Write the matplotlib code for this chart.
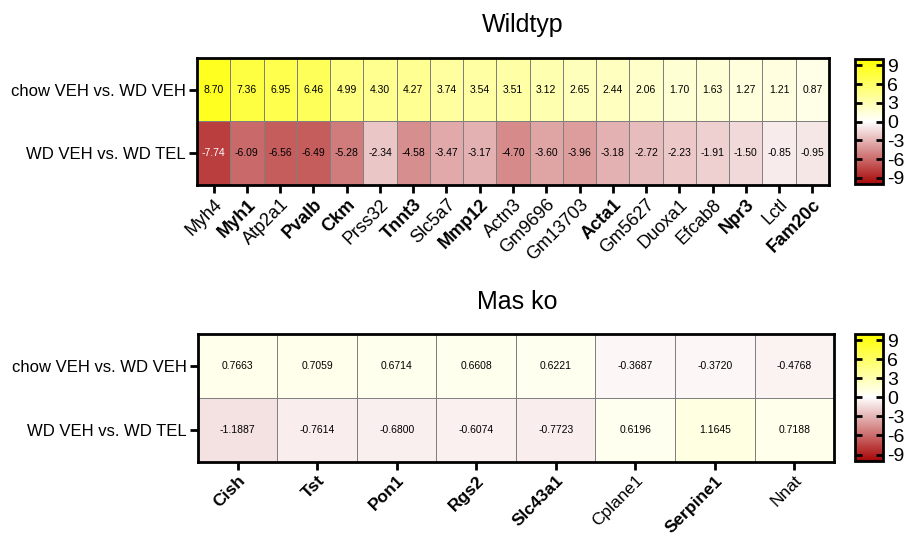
import numpy as np
import matplotlib
matplotlib.use("Agg")
import matplotlib.pyplot as plt
from matplotlib.colors import LinearSegmentedColormap

plt.rcParams['font.family'] = ['Liberation Sans', 'DejaVu Sans']

rows = ["chow VEH vs. WD VEH", "WD VEH vs. WD TEL"]

# Wildtyp
wt_genes = ["Myh4", "Myh1", "Atp2a1", "Pvalb", "Ckm", "Prss32", "Tnnt3", "Slc5a7",
            "Mmp12", "Actn3", "Gm9696", "Gm13703", "Acta1", "Gm5627", "Duoxa1",
            "Efcab8", "Npr3", "Lctl", "Fam20c"]
wt_bold = ["Myh1", "Pvalb", "Ckm", "Tnnt3", "Mmp12", "Acta1", "Npr3", "Fam20c"]
wt_chow = [8.70, 7.36, 6.95, 6.46, 4.99, 4.30, 4.27, 3.74, 3.54, 3.51, 3.12, 2.65,
           2.44, 2.06, 1.70, 1.63, 1.27, 1.21, 0.87]
wt_tel = [-7.74, -6.09, -6.56, -6.49, -5.28, -2.34, -4.58, -3.47, -3.17, -4.70,
          -3.60, -3.96, -3.18, -2.72, -2.23, -1.91, -1.50, -0.85, -0.95]

# Mas ko
ko_genes = ["Cish", "Tst", "Pon1", "Rgs2", "Slc43a1", "Cplane1", "Serpine1", "Nnat"]
ko_bold = ["Cish", "Tst", "Pon1", "Rgs2", "Slc43a1", "Serpine1"]
ko_chow = [0.7663, 0.7059, 0.6714, 0.6608, 0.6221, -0.3687, -0.3720, -0.4768]
ko_tel = [-1.1887, -0.7614, -0.6800, -0.6074, -0.7723, 0.6196, 1.1645, 0.7188]

cmap = LinearSegmentedColormap.from_list(
    "ryw", ["#a80808", "#ffffff", "#ffff00"])
vmin, vmax = -10, 10
cticks = [9, 6, 3, 0, -3, -6, -9]

fig = plt.figure(figsize=(9.09, 5.37), dpi=100)


def heat(ax, cax, genes, bold, top, bottom, fmt, xfs, title, title_x, title_y):
    data = np.array([top, bottom])
    m = ax.pcolormesh(data, cmap=cmap, vmin=vmin, vmax=vmax,
                      edgecolors="#808080", linewidth=0.6)
    ax.set_xlim(0, len(genes))
    ax.set_ylim(2, 0)
    for i in range(2):
        for j in range(len(genes)):
            v = data[i, j]
            col = "white" if v < -7 else "black"
            ax.text(j + 0.5, i + 0.5, fmt.format(v), ha="center", va="center",
                    fontsize=7.5, color=col)
    ax.set_yticks([0.5, 1.5])
    ax.set_yticklabels(rows, fontsize=12)
    ax.set_xticks(np.arange(len(genes)) + 0.5)
    ax.set_xticklabels(genes, rotation=45, ha="right", rotation_mode="anchor",
                       fontsize=xfs)
    for lab in ax.get_xticklabels():
        if lab.get_text() in bold:
            lab.set_fontweight("bold")
    ax.tick_params(axis="both", width=2, length=6, pad=2)
    for sp in ax.spines.values():
        sp.set_linewidth(2)

    cb = fig.colorbar(m, cax=cax, ticks=cticks)
    cb.outline.set_linewidth(2)
    cax.tick_params(axis="y", which="both", direction="in", length=5, width=2,
                    left=True, right=True, labelsize=14, pad=3)
    cax.set_yticklabels([str(t) for t in cticks])
    fig.text(title_x, title_y, title, ha="center", va="center", fontsize=18)


ax1 = fig.add_axes([0.2167, 0.6555, 0.6953, 0.2365])
cax1 = fig.add_axes([0.9406, 0.6573, 0.0308, 0.2328])
heat(ax1, cax1, wt_genes, wt_bold, wt_chow, wt_tel, "{:.2f}", 13, "Wildtyp",
     0.575, 0.953)

ax2 = fig.add_axes([0.2178, 0.14, 0.6997, 0.2384])
cax2 = fig.add_axes([0.9406, 0.1418, 0.0308, 0.2365])
heat(ax2, cax2, ko_genes, ko_bold, ko_chow, ko_tel, "{:.4f}", 12.5, "Mas ko",
     0.569, 0.4376)

fig.savefig("out.png", dpi=100)
